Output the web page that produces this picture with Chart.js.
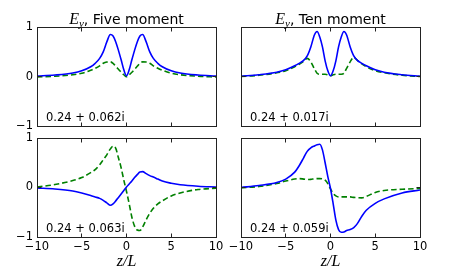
<!DOCTYPE html>
<html>
<head>
<meta charset="utf-8">
<script src="https://cdn.jsdelivr.net/npm/chart.js@4.4.0/dist/chart.umd.min.js"></script>
<style>
  body { margin: 0; background: #fff; }
  #fig { position: relative; width: 467px; height: 280px; overflow: hidden; font-family: "DejaVu Sans"; color: #000; }
  #fig canvas { position: absolute; left: 0; top: 0; }
  .ttl { position: absolute; width: 179px; font-size: 14px; line-height: 14px; text-align: center; white-space: nowrap; }
  .ttl i, .xl i { font-family: "Liberation Serif"; font-size: 16px; line-height: 14px; }
  .ttl sub { font-family: "Liberation Serif"; font-style: italic; font-size: 11px; line-height: 0; vertical-align: -3px; }
  .xl { position: absolute; width: 179px; line-height: 16px; text-align: center; }
  .ann { position: absolute; font-size: 11.5px; line-height: 11.5px; white-space: nowrap; }
</style>
</head>
<body>
<div id="fig">
  <canvas id="c1" width="467" height="280"></canvas>
  <canvas id="c2" width="467" height="280"></canvas>
  <canvas id="c3" width="467" height="280"></canvas>
  <canvas id="c4" width="467" height="280"></canvas>

  <div class="ttl" style="left:37px; top:11.5px;"><i>E</i><sub>y</sub>, Five moment</div>
  <div class="ttl" style="left:241px; top:11.5px;"><i>E</i><sub>y</sub>, Ten moment</div>

  <div class="ann" id="a1" style="left:46px; top:112.3px;"></div>
  <div class="ann" id="a2" style="left:250px; top:112.3px;"></div>
  <div class="ann" id="a3" style="left:46px; top:222.6px;"></div>
  <div class="ann" id="a4" style="left:250px; top:222.6px;"></div>

  <div class="xl" style="left:37px; top:253px;"><i>z</i><i>/</i><i>L</i></div>
  <div class="xl" style="left:241px; top:253px;"><i>z</i><i>/</i><i>L</i></div>
</div>

<script>
// z/L positions shared by every curve
const z = [-10, -8, -6, -5, -4, -3.5, -3, -2.6, -2.2, -1.8, -1.5, -1.2, -0.9, -0.6, -0.3, 0,
           0.3, 0.6, 0.9, 1.2, 1.5, 1.8, 2.2, 2.6, 3, 3.5, 4, 5, 6, 8, 10];

// top row
const fiveTopBlue  = [0.015, 0.035, 0.075, 0.12, 0.2, 0.27, 0.37, 0.5, 0.7, 0.85, 0.82, 0.7, 0.53, 0.34, 0.14, 0.02,
                      0.14, 0.34, 0.53, 0.7, 0.82, 0.85, 0.7, 0.5, 0.37, 0.27, 0.2, 0.12, 0.075, 0.035, 0.015];
const fiveTopGreen = [-0.005, 0.01, 0.04, 0.07, 0.13, 0.17, 0.22, 0.27, 0.295, 0.3, 0.27, 0.21, 0.15, 0.09, 0.04, 0.0,
                      0.04, 0.09, 0.15, 0.21, 0.27, 0.3, 0.295, 0.27, 0.22, 0.17, 0.13, 0.07, 0.04, 0.01, -0.005];
const tenTopBlue   = [0.01, 0.04, 0.09, 0.14, 0.22, 0.27, 0.33, 0.42, 0.6, 0.84, 0.91, 0.8, 0.6, 0.32, 0.12, 0.02,
                      0.12, 0.32, 0.6, 0.8, 0.91, 0.84, 0.6, 0.42, 0.33, 0.27, 0.22, 0.14, 0.09, 0.04, 0.01];
const tenTopGreen  = [0.005, 0.03, 0.08, 0.12, 0.2, 0.25, 0.31, 0.37, 0.3, 0.16, 0.07, 0.05, 0.05, 0.05, 0.04, 0.02,
                      0.04, 0.05, 0.05, 0.05, 0.07, 0.17, 0.3, 0.39, 0.33, 0.26, 0.2, 0.12, 0.08, 0.03, 0.005];

// bottom row
const fiveBotBlue  = [-0.01, -0.03, -0.07, -0.11, -0.16, -0.19, -0.22, -0.26, -0.31, -0.36, -0.33, -0.27, -0.2, -0.13, -0.06, 0.01,
                      0.07, 0.13, 0.2, 0.26, 0.315, 0.32, 0.28, 0.24, 0.21, 0.17, 0.13, 0.085, 0.055, 0.025, 0.01];
const fiveBotGreen = [0.01, 0.06, 0.14, 0.2, 0.3, 0.36, 0.46, 0.56, 0.66, 0.78, 0.835, 0.79, 0.6, 0.4, 0.15, -0.08,
                      -0.33, -0.6, -0.78, -0.86, -0.87, -0.8, -0.65, -0.52, -0.42, -0.33, -0.27, -0.17, -0.11, -0.04, -0.015];
const tenBotBlue   = [0.0, 0.04, 0.1, 0.17, 0.31, 0.44, 0.6, 0.73, 0.8, 0.84, 0.865, 0.875, 0.76, 0.5, 0.22, -0.02,
                      -0.33, -0.66, -0.85, -0.905, -0.9, -0.87, -0.85, -0.81, -0.73, -0.58, -0.46, -0.32, -0.23, -0.11, -0.05];
const tenBotGreen  = [-0.005, 0.02, 0.08, 0.13, 0.17, 0.18, 0.17, 0.16, 0.165, 0.175, 0.18, 0.18, 0.175, 0.15, 0.08, -0.03,
                      -0.12, -0.17, -0.19, -0.19, -0.19, -0.19, -0.19, -0.2, -0.205, -0.21, -0.18, -0.1, -0.06, -0.035, -0.02];

const freqLabels = ['0.24 + 0.062i', '0.24 + 0.017i', '0.24 + 0.063i', '0.24 + 0.059i'];
const xTicks = [-10, -5, 0, 5, 10];
const yTicks = [-1, 0, 1];

Chart.defaults.font.family = 'DejaVu Sans';
Chart.defaults.font.size = 11.5;
Chart.defaults.color = '#000';

// matplotlib style box with inward ticks on all four sides
const frameTicks = {
    id: 'frameTicks',
    afterDatasetsDraw(chart) {
        const ctx = chart.ctx, a = chart.chartArea;
        const L = Math.floor(a.left) + 0.5, R = Math.floor(a.right) + 0.5;
        const T = Math.floor(a.top) + 0.5, B = Math.floor(a.bottom) + 0.5;
        ctx.save();
        ctx.strokeStyle = '#222';
        ctx.lineWidth = 1;
        ctx.strokeRect(L, T, R - L, B - T);
        ctx.beginPath();
        xTicks.forEach(v => {
            const px = Math.floor(chart.scales.x.getPixelForValue(v)) + 0.5;
            ctx.moveTo(px, B); ctx.lineTo(px, B - 4);
            ctx.moveTo(px, T); ctx.lineTo(px, T + 4);
        });
        yTicks.forEach(v => {
            const py = Math.floor(chart.scales.y.getPixelForValue(v)) + 0.5;
            ctx.moveTo(L, py); ctx.lineTo(L + 4, py);
            ctx.moveTo(R, py); ctx.lineTo(R - 4, py);
        });
        ctx.stroke();
        ctx.restore();
    }
};

function minus(v) {
    return v < 0 ? '\u2212' + Math.abs(v) : String(v);
}

function makePanel(id, blue, green, showX, showY, pad) {
    const pts = arr => arr.map((v, i) => ({x: z[i], y: v}));
    return new Chart(document.getElementById(id), {
        type: 'line',
        data: {
            datasets: [{
                data: pts(blue),
                borderColor: '#0000ff',
                borderWidth: 1.6,
                pointRadius: 0,
                cubicInterpolationMode: 'monotone'
            }, {
                data: pts(green),
                borderColor: '#008000',
                borderWidth: 1.6,
                borderDash: [5.5, 3],
                pointRadius: 0,
                cubicInterpolationMode: 'monotone'
            }]
        },
        options: {
            responsive: false,
            animation: false,
            layout: {padding: pad},
            plugins: {legend: {display: false}, tooltip: {enabled: false}},
            scales: {
                x: {
                    type: 'linear', min: -10, max: 10,
                    display: showX,
                    grid: {display: false, drawTicks: false},
                    border: {display: false},
                    afterBuildTicks: s => { s.ticks = xTicks.map(v => ({value: v})); },
                    ticks: {padding: 3, maxRotation: 0, callback: minus},
                    afterFit: s => { s.height = showX ? 20 : 0; s.paddingLeft = 0; s.paddingRight = 0; }
                },
                y: {
                    min: -1, max: 1,
                    display: showY,
                    grid: {display: false, drawTicks: false},
                    border: {display: false},
                    afterBuildTicks: s => { s.ticks = yTicks.map(v => ({value: v})); },
                    ticks: {padding: 4, callback: minus},
                    afterFit: s => { s.width = showY ? 37 : 0; s.paddingTop = 0; s.paddingBottom = 0; }
                }
            }
        },
        plugins: [frameTicks]
    });
}

makePanel('c1', fiveTopBlue, fiveTopGreen, false, true,  {left: 0,   top: 27,  right: 251, bottom: 153.5});
makePanel('c2', tenTopBlue,  tenTopGreen,  false, false, {left: 241, top: 27,  right: 47,  bottom: 153.5});
makePanel('c3', fiveBotBlue, fiveBotGreen, true,  true,  {left: 0,   top: 138, right: 251, bottom: 23});
makePanel('c4', tenBotBlue,  tenBotGreen,  true,  false, {left: 241, top: 138, right: 47,  bottom: 23});

freqLabels.forEach((t, i) => { document.getElementById('a' + (i + 1)).textContent = t; });
</script>
</body>
</html>
